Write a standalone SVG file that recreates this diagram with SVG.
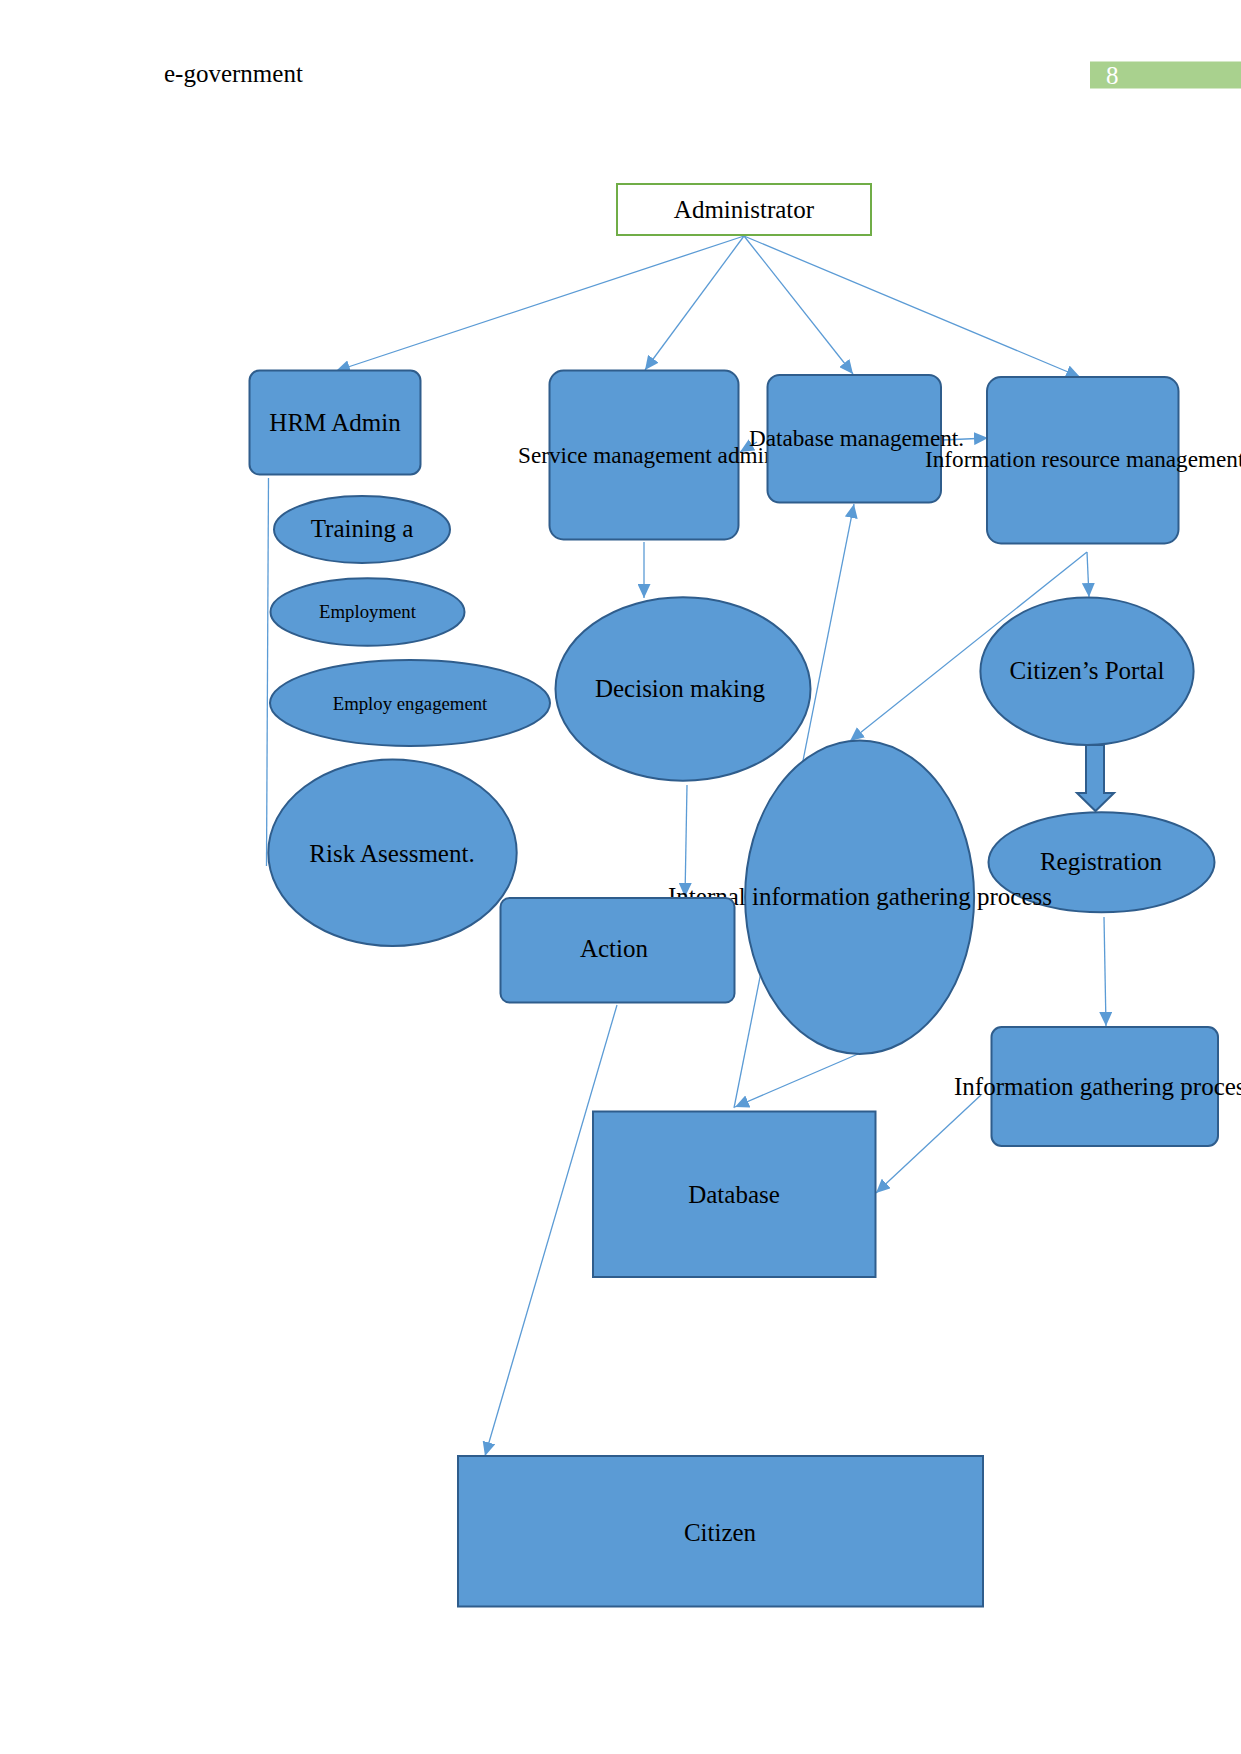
<svg xmlns="http://www.w3.org/2000/svg" width="1241" height="1754" viewBox="0 0 1241 1754">
<style>
text{font-family:"Liberation Serif","Times New Roman",serif;font-size:25px;fill:#000}
.s{font-size:18.75px}
.t{font-size:23.2px}
.n{fill:#5B9BD5;stroke:#2F5D8C;stroke-width:2}
.c{fill:none;stroke:#5B9BD5;stroke-width:1.3}
.m{text-anchor:middle}
</style>
<defs>
<marker id="ah" markerUnits="userSpaceOnUse" markerWidth="15" markerHeight="13" refX="14" refY="6.5" orient="auto">
<path d="M0,0 L14,6.5 L0,13 z" fill="#5B9BD5"/>
</marker>
</defs>
<rect width="1241" height="1754" fill="#fff"/>
<g id="header">
<text x="164" y="82">e-government</text>
<rect x="1090" y="61.5" width="151" height="27" fill="#A9D18E"/>
<text x="1106" y="84" style="fill:#fff">8</text>
</g>
<g id="connectors">
<line class="c" x1="744" y1="236" x2="336" y2="371" marker-end="url(#ah)"/>
<line class="c" x1="744" y1="236" x2="645" y2="370" marker-end="url(#ah)"/>
<line class="c" x1="744" y1="236" x2="853" y2="374" marker-end="url(#ah)"/>
<line class="c" x1="744" y1="236" x2="1080" y2="377" marker-end="url(#ah)"/>
<line class="c" x1="757" y1="442" x2="740" y2="452" marker-end="url(#ah)"/>
<line class="c" x1="943" y1="440" x2="988" y2="438" marker-end="url(#ah)"/>
<line class="c" x1="644" y1="542" x2="644" y2="598" marker-end="url(#ah)"/>
<line class="c" x1="268.5" y1="478" x2="266.5" y2="866"/>
<line class="c" x1="687" y1="785" x2="685" y2="897" marker-end="url(#ah)"/>
<line class="c" x1="1087" y1="552" x2="1089" y2="597" marker-end="url(#ah)"/>
<line class="c" x1="1087" y1="552" x2="850" y2="741" marker-end="url(#ah)"/>
<line class="c" x1="734" y1="1108" x2="854" y2="504" marker-end="url(#ah)"/>
<line class="c" x1="858" y1="1054" x2="735" y2="1107" marker-end="url(#ah)"/>
<line class="c" x1="1104" y1="917" x2="1106" y2="1026" marker-end="url(#ah)"/>
<line class="c" x1="981" y1="1095" x2="876" y2="1193" marker-end="url(#ah)"/>
<line class="c" x1="617" y1="1005" x2="485" y2="1456" marker-end="url(#ah)"/>
<path class="n" d="M1086,745 L1104,745 L1104,793 L1114,793 L1095.5,811 L1077,793 L1086,793 Z"/>
</g>
<g id="administrator">
<rect x="617" y="184" width="254" height="51" fill="#fff" stroke="#70AD47" stroke-width="2"/>
<text class="m" x="744" y="218">Administrator</text>
</g>
<g id="hrm-admin">
<rect class="n" x="249.5" y="370.5" width="171" height="104" rx="10"/>
<text class="m" x="335" y="431">HRM Admin</text>
</g>
<g id="training">
<ellipse class="n" cx="362" cy="529.5" rx="88" ry="33.5"/>
<text class="m" x="362" y="537">Training a</text>
</g>
<g id="employment">
<ellipse class="n" cx="367.5" cy="612" rx="97" ry="33.7"/>
<text class="m s" x="367.5" y="618">Employment</text>
</g>
<g id="employ-engagement">
<ellipse class="n" cx="410" cy="703" rx="140" ry="43"/>
<text class="m s" x="410" y="710">Employ engagement</text>
</g>
<g id="risk-assessment">
<ellipse class="n" cx="392.5" cy="852.7" rx="124.2" ry="93.3"/>
<text class="m" x="392" y="862">Risk Asessment.</text>
</g>
<g id="service-management">
<rect class="n" x="549.5" y="370.5" width="189" height="169" rx="14"/>
<text class="t" x="518" y="463">Service management admin</text>
</g>
<g id="database-management">
<rect class="n" x="767.5" y="375" width="173.5" height="127.5" rx="12"/>
<text class="t" x="749" y="446">Database management.</text>
</g>
<g id="information-resource-management">
<rect class="n" x="987" y="377" width="191.5" height="166.5" rx="14"/>
<text class="t" x="925" y="467">Information resource management</text>
</g>
<g id="decision-making">
<ellipse class="n" cx="683" cy="689" rx="127.5" ry="91.7"/>
<text class="m" x="680" y="697">Decision making</text>
</g>
<g id="citizens-portal">
<ellipse class="n" cx="1087" cy="671.3" rx="106.6" ry="73.7"/>
<text class="m" x="1087" y="679">Citizen’s Portal</text>
</g>
<g id="registration">
<ellipse class="n" cx="1101.5" cy="862.2" rx="113" ry="50"/>
<text class="m" x="1101" y="870">Registration</text>
</g>
<g id="internal-information-gathering">
<ellipse class="n" cx="859.6" cy="897.3" rx="114.5" ry="156.7"/>
<text class="m" x="860" y="905">Internal information gathering process</text>
</g>
<g id="action">
<rect class="n" x="500.5" y="898" width="234" height="104.5" rx="9"/>
<text class="m" x="614" y="957">Action</text>
</g>
<g id="information-gathering-process">
<rect class="n" x="991.5" y="1027" width="226.5" height="119" rx="10"/>
<text x="954" y="1095">Information gathering process</text>
</g>
<g id="database">
<rect class="n" x="593" y="1111.5" width="282.5" height="165.5"/>
<text class="m" x="734" y="1203">Database</text>
</g>
<g id="citizen">
<rect class="n" x="458" y="1456" width="525" height="150.5"/>
<text class="m" x="720" y="1541">Citizen</text>
</g>
</svg>
